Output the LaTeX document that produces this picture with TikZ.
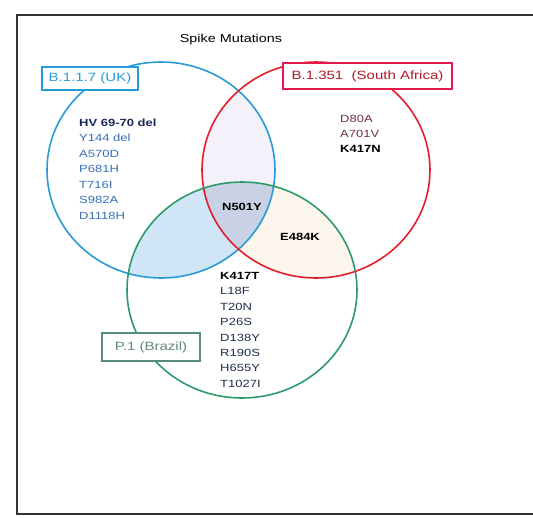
\documentclass[tikz,border=0pt]{standalone}
\usepackage{fontspec}
\setmainfont{Liberation Sans}[FakeStretch=1.25]
\usepackage{tikz}
\usetikzlibrary{positioning}

\begin{document}
\begin{tikzpicture}[
    x=1pt, y=-1pt,
    mut/.style={font=\fontsize{10.4}{12}\selectfont, anchor=base west, inner sep=0pt},
    core/.style={font=\fontsize{10.4}{12}\selectfont\bfseries, anchor=base, inner sep=0pt, text=black},
    setbox/.style={draw, fill=white, line width=1.2pt, inner sep=0pt,
                   font=\fontsize{12}{14}\selectfont},
    ring/.style={line width=1.6pt},
]

\definecolor{ukBlue}{RGB}{40,155,215}       % B.1.1.7
\definecolor{saRed}{RGB}{225,30,45}         % B.1.351
\definecolor{brGreen}{RGB}{45,155,105}      % P.1
\definecolor{ukText}{RGB}{55,110,180}
\definecolor{ukHead}{RGB}{25,40,90}
\definecolor{saText}{RGB}{110,50,60}
\definecolor{brText}{RGB}{30,45,75}
\definecolor{fillUB}{RGB}{208,230,246}      % UK & Brazil
\definecolor{fillUS}{RGB}{245,241,250}      % UK & South Africa
\definecolor{fillSB}{RGB}{253,246,236}      % South Africa & Brazil
\definecolor{fillAll}{RGB}{200,210,228}     % all three

\useasboundingbox (0,0) rectangle (533,517);

% ============================================================
% FRAME AND TITLE
% ============================================================
\draw[line width=1.4pt, black!80] (17,15) rectangle (560,514);
\node[font=\fontsize{11.5}{13}\selectfont, anchor=base, inner sep=0pt]
    (title) at (231,42.5) {Spike Mutations};

% ============================================================
% OVERLAPS (shaded)
% ============================================================
\begin{scope}
    \clip (161,170) ellipse [x radius=114, y radius=108];
    \fill[fillUB] (242,290) ellipse [x radius=115, y radius=108];
    \fill[fillUS] (316,170) ellipse [x radius=114, y radius=108];
\end{scope}
\begin{scope}
    \clip (316,170) ellipse [x radius=114, y radius=108];
    \fill[fillSB] (242,290) ellipse [x radius=115, y radius=108];
\end{scope}
\begin{scope}
    \clip (161,170) ellipse [x radius=114, y radius=108];
    \clip (316,170) ellipse [x radius=114, y radius=108];
    \fill[fillAll] (242,290) ellipse [x radius=115, y radius=108];
\end{scope}

% ============================================================
% SETS
% ============================================================
\draw[ring, ukBlue]  (161,170) ellipse [x radius=114, y radius=108];
\draw[ring, saRed]   (316,170) ellipse [x radius=114, y radius=108];
\draw[ring, brGreen] (242,290) ellipse [x radius=115, y radius=108];

% set labels
\node[setbox, draw=ukBlue, text=ukBlue, minimum width=96pt, minimum height=23pt]
    (uk) at (90,78.5) {B.1.1.7 (UK)};
\node[setbox, draw=saRed!85!magenta, text=saRed!80!black, minimum width=169pt, minimum height=26pt]
    (sa) at (367.5,76) {B.1.351\ \ (South Africa)};
\node[setbox, draw=brGreen!50!gray, text=brGreen!40!gray, minimum width=98pt, minimum height=28pt]
    (br) at (151,347) {P.1 (Brazil)};

% ============================================================
% MUTATIONS
% ============================================================
% B.1.1.7 only
\node[mut, text=ukHead, font=\fontsize{10.4}{12}\selectfont\bfseries]
    (hv) at (79,126.5) {HV 69-70 del};
\foreach \m [count=\i] in {Y144 del, A570D, P681H, T716I, S982A, D1118H} {
    \node[mut, text=ukText] (uk\i) at (79,126.5+15.47*\i) {\m};
}

% B.1.351 only
\node[mut, text=saText] (d80) at (340,122.7) {D80A};
\node[mut, text=saText] (a701) at (340,137.7) {A701V};
\node[mut, text=black, font=\fontsize{10.4}{12}\selectfont\bfseries]
    (k417n) at (340,152.7) {K417N};

% shared
\node[core] (n501) at (242,210) {N501Y};
\node[core] (e484) at (300,240) {E484K};

% P.1 only
\node[mut, text=black, font=\fontsize{10.4}{12}\selectfont\bfseries]
    (k417t) at (220,279.3) {K417T};
\foreach \m [count=\i] in {L18F, T20N, P26S, D138Y, R190S, H655Y, T1027I} {
    \node[mut, text=brText] (br\i) at (220,279.3+15.43*\i) {\m};
}

\end{tikzpicture}
\end{document}
